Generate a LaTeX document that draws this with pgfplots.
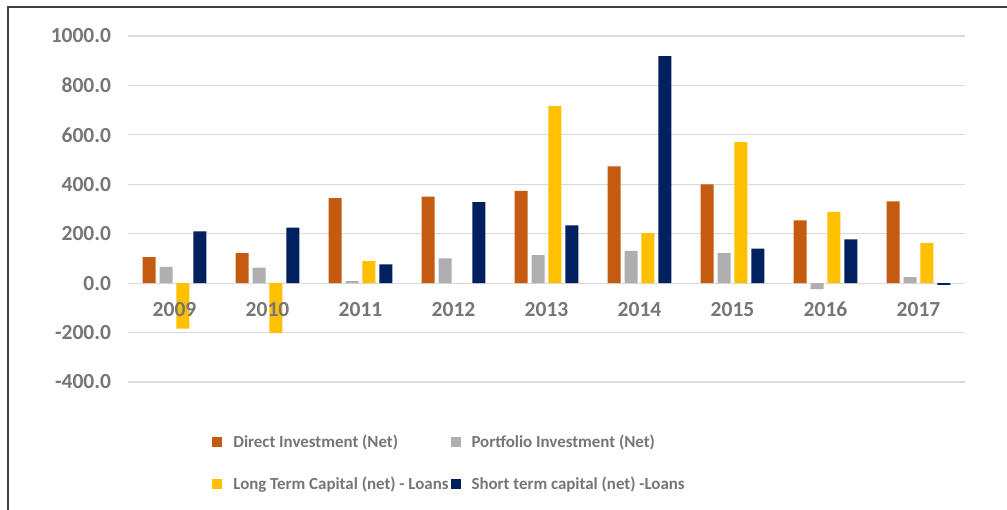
\documentclass[border=0pt]{standalone}
\usepackage{pgfplots}
\pgfplotsset{compat=1.18}
\usepackage{fontspec}
\setmainfont{Carlito}
\definecolor{cOrange}{HTML}{C55A11}
\definecolor{cGray}{HTML}{AFAFB2}
\definecolor{cYellow}{HTML}{FFC000}
\definecolor{cNavy}{HTML}{002060}
\definecolor{txt}{HTML}{767676}
\definecolor{gridc}{HTML}{D9D9D9}
\pgfplotsset{base/.style={
  at={(128bp,128bp)}, anchor=south west,
  scale only axis, width=837bp, height=346bp,
  ymin=-400, ymax=1000,
  xmin=-0.5, xmax=8.5,
  axis line style={draw=none},
  major tick length=0pt,
  ticklabel style={font=\fontsize{21.5bp}{25bp}\selectfont\bfseries, text=txt},
}}
\begin{document}
\begin{tikzpicture}[x=1bp,y=1bp]
\useasboundingbox (0,0) rectangle (1007,510);
\fill[white] (0,0) rectangle (1007,510);
\draw[line width=1.7bp, black!75] (8,-2) -- (8,503) -- (1009,503);
\begin{axis}[base,
  ytick={-400,-200,...,1000},
  xtick=\empty,
  ybar=3.9bp, bar width=13bp,
  ymajorgrids, grid style={gridc, line width=1.2bp},
  /pgf/number format/.cd, fixed, fixed zerofill, precision=1, 1000 sep={}, assume math mode=true,
  /pgfplots/.cd,
  yticklabel style={anchor=east, xshift=-13.5bp},
  legend columns=2,
  legend cell align=left,
  legend style={at={(0.097,-0.140)}, anchor=north west, draw=none, fill=none,
    font=\fontsize{16.9bp}{20bp}\selectfont\bfseries, text=txt,
    row sep=24bp,
    /tikz/every odd column/.append style={column sep=9bp},
    /tikz/every even column/.append style={column sep=0bp}},
]
\addplot[fill=cOrange, draw=none, legend image code/.code={\fill[cOrange] (0bp,-5bp) rectangle (10bp,5bp);}] coordinates {(0,105) (1,121) (2,344) (3,350) (4,373) (5,472) (6,400) (7,254) (8,331)};
\addplot[fill=cGray, draw=none, legend image code/.code={\fill[cGray] (0bp,-5bp) rectangle (10bp,5bp);}] coordinates {(0,66) (1,63) (2,8) (3,100) (4,113) (5,131) (6,121) (7,-24) (8,24)};
\addplot[fill=cYellow, draw=none, legend image code/.code={\fill[cYellow] (0bp,-5bp) rectangle (10bp,5bp);}] coordinates {(0,-184) (1,-202) (2,89) (3,0) (4,716) (5,202) (6,571) (7,288) (8,163)};
\addplot[fill=cNavy, draw=none, legend image code/.code={\fill[cNavy] (0bp,-5bp) rectangle (10bp,5bp);}] coordinates {(0,209) (1,225) (2,76) (3,328) (4,234) (5,919) (6,140) (7,177) (8,-7)};
\legend{Direct Investment (Net), Portfolio Investment (Net), Long Term Capital (net) - Loans, Short term capital (net) -Loans}
\end{axis}
\begin{axis}[base,
  ytick=\empty,
  xtick={0,...,8}, xticklabels={2009,2010,2011,2012,2013,2014,2015,2016,2017},
  xticklabel style={anchor=center, text height=14bp, text depth=0pt, yshift=72bp},
]
\end{axis}
\end{tikzpicture}
\end{document}
